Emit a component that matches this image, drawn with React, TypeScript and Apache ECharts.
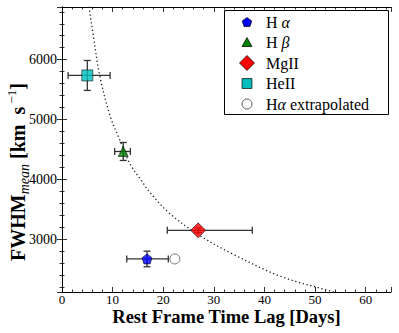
import React, { useEffect, useRef } from 'react';
import * as echarts from 'echarts';

const seriesNames = ['Hα', 'Hβ', 'MgII', 'HeII', 'Hα extrapolated'];
const lagDays = [16.8, 12.1, 26.9, 5.0, 22.3];
const fwhmMean = [2672, 4467, 3150, 5737, 2672];
const lagErrMinus = [4.0, 1.7, 6.1, 3.8, 0];
const lagErrPlus = [4.2, 1.4, 10.7, 4.5, 0];
const fwhmErr = [130, 150, 40, 250, 0];

const curveLag = [5.2, 5.35, 6.1, 7.45, 9.5, 11.4, 13.5, 15.6, 17.3, 21.2, 26.9, 33.6, 43.4, 53.5, 56];
const curveFwhm = [6950, 6870, 6450, 5737, 5060, 4662, 4250, 3993, 3790, 3437, 3080, 2760, 2375, 2125, 2060];

const xTickLabels = ['0', '10', '20', '30', '40', '50', '60'];
const yTickLabels = ['3000', '4000', '5000', '6000'];

const FONT = '"Liberation Serif", "Times New Roman", serif';

const colors = ['#0000ff', '#008000', '#ff0000', '#00bfbf', '#ffffff'];
const pentagon = 'path://M0,-1 L0.951,-0.309 L0.588,0.809 L-0.588,0.809 L-0.951,-0.309 Z';
const symbols = [pentagon, 'triangle', 'diamond', 'rect', 'circle'];
const sizes = [10, 10, 15, 11, 10];

export default function App() {
  const ref = useRef<HTMLDivElement>(null);
  useEffect(() => {
    if (!ref.current) return;
    const chart = echarts.init(ref.current, undefined, { renderer: 'svg' });
    const xMin = 0, xMax = 65, yMin = 2120, yMax = 6880;

    const tickCommon = {
      axisLine: { show: true, lineStyle: { color: '#000', width: 1 } },
      axisTick: { show: true, inside: true, length: 5, lineStyle: { color: '#000', width: 0.8 } },
      minorTick: { show: true, splitNumber: 5, length: 2.5, lineStyle: { color: '#000', width: 0.8 } },
      splitLine: { show: false },
    };

    const errData = lagDays.map((x, i) => [x, fwhmMean[i], lagErrMinus[i], lagErrPlus[i], fwhmErr[i]]);

    const scatterSeries = seriesNames.map((name, i) => ({
      type: 'scatter',
      name,
      data: [[lagDays[i], fwhmMean[i]]],
      symbol: symbols[i],
      symbolSize: sizes[i],
      z: 5,
      itemStyle: {
        color: colors[i],
        borderColor: i === 4 ? '#555' : '#000',
        borderWidth: i === 4 ? 1 : 0.7,
      },
    }));

    const legendTop = 22, legendGap = 20.5, mx = 247, tx = 266;
    const labelsRich = [
      '{n|H }{g|α}',
      '{n|H }{g|β}',
      '{n|MgII}',
      '{n|HeII}',
      '{n|H}{g|α}{n| extrapolated}',
    ];
    const legendGraphics: any[] = [
      {
        type: 'rect', shape: { x: 224.5, y: 10.5, width: 164, height: 104 },
        style: { fill: '#fff', stroke: '#000', lineWidth: 1 }, z: 10,
      },
    ];
    seriesNames.forEach((_name, i) => {
      const cy = legendTop + i * legendGap;
      const s = sizes[i] / 2;
      let shape: any;
      const st = { fill: colors[i], stroke: i === 4 ? '#555' : '#000', lineWidth: i === 4 ? 1 : 0.7 };
      if (i === 0) {
        const pts = [];
        for (let k = 0; k < 5; k++) {
          const a = -Math.PI / 2 + (k * 2 * Math.PI) / 5;
          pts.push([mx + s * Math.cos(a), cy + s * Math.sin(a) + 0.5]);
        }
        shape = { type: 'polygon', shape: { points: pts }, style: st };
      } else if (i === 1) {
        shape = { type: 'polygon', shape: { points: [[mx, cy - s], [mx + s, cy + s * 0.8], [mx - s, cy + s * 0.8]] }, style: st };
      } else if (i === 2) {
        shape = { type: 'polygon', shape: { points: [[mx, cy - s], [mx + s, cy], [mx, cy + s], [mx - s, cy]] }, style: st };
      } else if (i === 3) {
        shape = { type: 'rect', shape: { x: mx - s * 0.9, y: cy - s * 0.9, width: s * 1.8, height: s * 1.8 }, style: st };
      } else {
        shape = { type: 'circle', shape: { cx: mx, cy, r: s }, style: st };
      }
      legendGraphics.push({ ...shape, z: 11 });
      legendGraphics.push({
        type: 'text', x: tx, y: cy, z: 11,
        style: {
          text: labelsRich[i],
          verticalAlign: 'middle',
          align: 'left',
          rich: {
            n: { fontFamily: FONT, fontSize: 16, fill: '#000' },
            g: { fontFamily: FONT, fontSize: 16, fontStyle: 'italic', fill: '#000' },
          },
        },
      });
    });

    const option: any = {
      animation: false,
      backgroundColor: '#fff',
      grid: { left: 62, right: 8, top: 7, bottom: 41, containLabel: false },
      xAxis: [
        {
          type: 'value', min: xMin, max: xMax, interval: 10, position: 'bottom',
          ...tickCommon,
          axisLabel: {
            show: true, margin: 2, color: '#000', fontFamily: FONT, fontSize: 13, lineHeight: 11,
            formatter: (v: number) => (xTickLabels.includes(String(v)) ? String(v) : ''),
          },
        },
        {
          type: 'value', min: xMin, max: xMax, interval: 10, position: 'top',
          ...tickCommon, axisLabel: { show: false },
        },
      ],
      yAxis: [
        {
          type: 'value', min: yMin, max: yMax, minInterval: 1000, maxInterval: 1000, position: 'left',
          ...tickCommon,
          axisLabel: {
            show: true, margin: 5, color: '#000', fontFamily: FONT, fontSize: 14,
            formatter: (v: number) => (yTickLabels.includes(String(v)) ? String(v) : ''),
          },
        },
        {
          type: 'value', min: yMin, max: yMax, minInterval: 1000, maxInterval: 1000, position: 'right',
          ...tickCommon, axisLabel: { show: false },
        },
      ],
      series: [
        {
          type: 'line',
          data: curveLag.map((x, i) => [x, curveFwhm[i]]),
          showSymbol: false,
          smooth: 0.35,
          clip: true,
          z: 2,
          lineStyle: { color: '#222', width: 1.3, type: [1.3, 2.6] },
        },
        {
          type: 'custom',
          data: errData,
          z: 3,
          renderItem: (_params: any, api: any) => {
            const x = api.value(0), y = api.value(1);
            const lo = api.value(2), hi = api.value(3), ye = api.value(4);
            const children: any[] = [];
            const st = { stroke: '#333', lineWidth: 1.3 };
            const cap = 3.5;
            if (lo > 0 || hi > 0) {
              const p1 = api.coord([x - lo, y]);
              const p2 = api.coord([x + hi, y]);
              children.push({ type: 'line', shape: { x1: p1[0], y1: p1[1], x2: p2[0], y2: p2[1] }, style: st });
              children.push({ type: 'line', shape: { x1: p1[0], y1: p1[1] - cap, x2: p1[0], y2: p1[1] + cap }, style: st });
              children.push({ type: 'line', shape: { x1: p2[0], y1: p2[1] - cap, x2: p2[0], y2: p2[1] + cap }, style: st });
            }
            if (ye > 0) {
              const q1 = api.coord([x, y - ye]);
              const q2 = api.coord([x, y + ye]);
              children.push({ type: 'line', shape: { x1: q1[0], y1: q1[1], x2: q2[0], y2: q2[1] }, style: st });
              children.push({ type: 'line', shape: { x1: q1[0] - cap, y1: q1[1], x2: q1[0] + cap, y2: q1[1] }, style: st });
              children.push({ type: 'line', shape: { x1: q2[0] - cap, y1: q2[1], x2: q2[0] + cap, y2: q2[1] }, style: st });
            }
            return { type: 'group', children };
          },
        },
        ...scatterSeries,
      ],
      graphic: [
        {
          type: 'text', x: 226.5, y: 317, z: 10,
          style: {
            text: 'Rest Frame Time Lag [Days]', align: 'center', verticalAlign: 'middle',
            fontFamily: FONT, fontSize: 18.5, fontWeight: 'bold', fill: '#000',
          },
        },
        {
          type: 'text', x: 18, y: 172, rotation: Math.PI / 2, z: 10,
          style: {
            text: '{b|FWHM}{s|mean}{b| [km  s}{p| −1}{b|]}',
            align: 'center', verticalAlign: 'middle',
            rich: {
              b: { fontFamily: FONT, fontSize: 20, fontWeight: 'bold', fill: '#000', lineHeight: 26 },
              s: { fontFamily: FONT, fontSize: 14, fontStyle: 'italic', fill: '#000', lineHeight: 14, verticalAlign: 'bottom' },
              p: { fontFamily: FONT, fontSize: 13, fill: '#000', lineHeight: 13, verticalAlign: 'top' },
            },
          },
        },
        ...legendGraphics,
      ],
    };
    chart.setOption(option);
    return () => chart.dispose();
  }, []);
  return <div ref={ref} style={{ position: 'absolute', left: 0, top: 0, width: 399, height: 333 }} />;
}
